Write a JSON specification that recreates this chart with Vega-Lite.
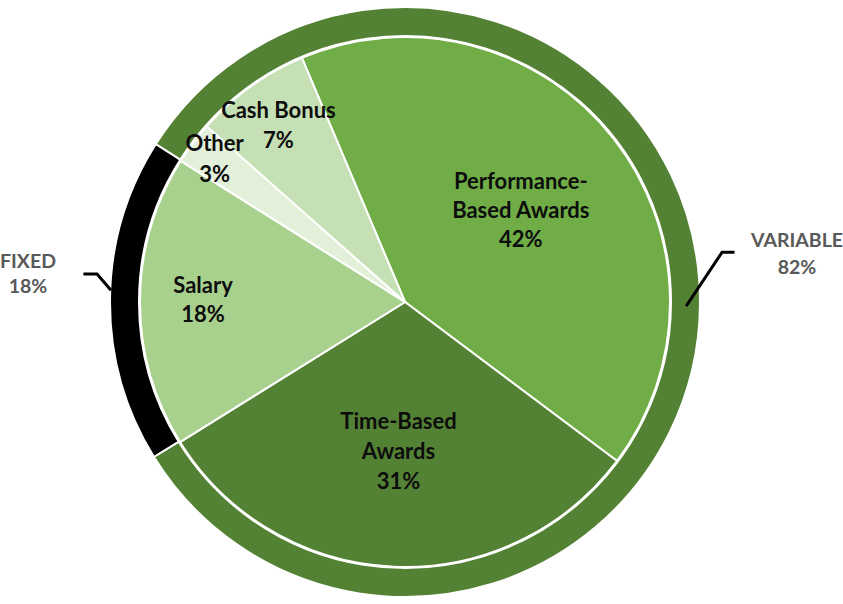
{
  "$schema": "https://vega.github.io/schema/vega-lite/v6.json",
  "width": 810,
  "height": 604,
  "padding": {"left": 0, "right": 33, "top": 0, "bottom": 0},
  "autosize": {"type": "none"},
  "background": "white",
  "config": {"view": {"stroke": null}, "font": "Lato"},
  "datasets": {
    "pay": [
      {"name": "Performance-Based Awards", "label": "Performance-\nBased Awards\n42%", "value": 41.6, "rank": 1},
      {"name": "Time-Based Awards", "label": "Time-Based\nAwards\n31%", "value": 30.9, "rank": 2},
      {"name": "Salary", "label": "Salary\n18%", "value": 17.8, "rank": 3},
      {"name": "Other", "label": "Other\n3%", "value": 2.6, "rank": 4},
      {"name": "Cash Bonus", "label": "Cash Bonus\n7%", "value": 7.1, "rank": 5}
    ],
    "mix": [
      {"name": "FIXED", "label": "FIXED\n18%", "value": 17.8, "rank": 1},
      {"name": "VARIABLE", "label": "VARIABLE\n82%", "value": 82.2, "rank": 2}
    ],
    "leaders": [
      {"group": "FIXED", "x": -1.085, "y": 0.095, "i": 1},
      {"group": "FIXED", "x": -1.044, "y": 0.095, "i": 2},
      {"group": "FIXED", "x": -1.0, "y": 0.044, "i": 3},
      {"group": "VARIABLE", "x": 1.112, "y": 0.169, "i": 1},
      {"group": "VARIABLE", "x": 1.075, "y": 0.169, "i": 2},
      {"group": "VARIABLE", "x": 0.956, "y": -0.01, "i": 3}
    ]
  },
  "layer": [
    {
      "data": {"name": "mix"},
      "mark": {"type": "arc", "outerRadius": 295, "innerRadius": 266, "stroke": "white", "strokeWidth": 2},
      "encoding": {
        "theta": {"field": "value", "type": "quantitative", "stack": true, "scale": {"range": [4.1591, 10.4423]}},
        "order": {"field": "rank", "type": "quantitative"},
        "color": {"field": "name", "type": "nominal", "scale": {"domain": ["FIXED", "VARIABLE"], "range": ["#000000", "#548235"]}, "legend": null}
      }
    },
    {
      "data": {"name": "pay"},
      "mark": {"type": "arc", "outerRadius": 265, "stroke": "white", "strokeWidth": 2},
      "encoding": {
        "theta": {"field": "value", "type": "quantitative", "stack": true, "scale": {"range": [-0.3997, 5.8835]}},
        "order": {"field": "rank", "type": "quantitative"},
        "color": {"field": "name", "type": "nominal", "scale": {"domain": ["Performance-Based Awards", "Time-Based Awards", "Salary", "Other", "Cash Bonus"], "range": ["#70AD47", "#548235", "#A9D18E", "#E2F0D9", "#C5E0B4"]}, "legend": null}
      }
    },
    {
      "data": {"name": "pay"},
      "mark": {"type": "text", "radius": 147, "dy": -29, "font": "Lato", "fontWeight": "bold", "fontSize": 22, "lineBreak": "\n", "lineHeight": 29, "color": "#0d0d0d", "align": "center", "baseline": "middle"},
      "encoding": {
        "theta": {"field": "value", "type": "quantitative", "stack": true, "scale": {"range": [-0.3997, 5.8835]}},
        "order": {"field": "rank", "type": "quantitative"},
        "text": {"condition": {"test": "datum.name === 'Performance-Based Awards'", "field": "label", "type": "nominal"}, "value": ""}
      }
    },
    {
      "data": {"name": "pay"},
      "mark": {"type": "text", "radius": 150, "dy": -30, "font": "Lato", "fontWeight": "bold", "fontSize": 22, "lineBreak": "\n", "lineHeight": 30, "color": "#0d0d0d", "align": "center", "baseline": "middle"},
      "encoding": {
        "theta": {"field": "value", "type": "quantitative", "stack": true, "scale": {"range": [-0.3997, 5.8835]}},
        "order": {"field": "rank", "type": "quantitative"},
        "text": {"condition": {"test": "datum.name === 'Time-Based Awards'", "field": "label", "type": "nominal"}, "value": ""}
      }
    },
    {
      "data": {"name": "pay"},
      "mark": {"type": "text", "radius": 202, "dy": -16, "font": "Lato", "fontWeight": "bold", "fontSize": 22, "lineBreak": "\n", "lineHeight": 29, "color": "#0d0d0d", "align": "center", "baseline": "middle"},
      "encoding": {
        "theta": {"field": "value", "type": "quantitative", "stack": true, "scale": {"range": [-0.3997, 5.8835]}},
        "order": {"field": "rank", "type": "quantitative"},
        "text": {"condition": {"test": "datum.name === 'Salary'", "field": "label", "type": "nominal"}, "value": ""}
      }
    },
    {
      "data": {"name": "pay"},
      "mark": {"type": "text", "radius": 238, "dy": -15, "font": "Lato", "fontWeight": "bold", "fontSize": 22, "lineBreak": "\n", "lineHeight": 31, "color": "#0d0d0d", "align": "center", "baseline": "middle"},
      "encoding": {
        "theta": {"field": "value", "type": "quantitative", "stack": true, "scale": {"range": [-0.3997, 5.8835]}},
        "order": {"field": "rank", "type": "quantitative"},
        "text": {"condition": {"test": "datum.name === 'Other'", "field": "label", "type": "nominal"}, "value": ""}
      }
    },
    {
      "data": {"name": "pay"},
      "mark": {"type": "text", "radius": 217, "dy": -15, "font": "Lato", "fontWeight": "bold", "fontSize": 22, "lineBreak": "\n", "lineHeight": 30, "color": "#0d0d0d", "align": "center", "baseline": "middle"},
      "encoding": {
        "theta": {"field": "value", "type": "quantitative", "stack": true, "scale": {"range": [-0.3997, 5.8835]}},
        "order": {"field": "rank", "type": "quantitative"},
        "text": {"condition": {"test": "datum.name === 'Cash Bonus'", "field": "label", "type": "nominal"}, "value": ""}
      }
    },
    {
      "data": {"name": "mix"},
      "mark": {"type": "text", "radius": 377, "dy": -38, "font": "Lato", "fontWeight": "bold", "fontSize": 19.5, "lineBreak": "\n", "lineHeight": 25, "color": "#595959", "align": "center", "baseline": "middle"},
      "encoding": {
        "theta": {"field": "value", "type": "quantitative", "stack": true, "scale": {"range": [4.1591, 10.4423]}},
        "order": {"field": "rank", "type": "quantitative"},
        "text": {"condition": {"test": "datum.name === 'FIXED'", "field": "label", "type": "nominal"}, "value": ""}
      }
    },
    {
      "data": {"name": "mix"},
      "mark": {"type": "text", "radius": 392, "dy": -63, "font": "Lato", "fontWeight": "bold", "fontSize": 19.5, "lineBreak": "\n", "lineHeight": 27, "color": "#595959", "align": "center", "baseline": "middle"},
      "encoding": {
        "theta": {"field": "value", "type": "quantitative", "stack": true, "scale": {"range": [4.1591, 10.4423]}},
        "order": {"field": "rank", "type": "quantitative"},
        "text": {"condition": {"test": "datum.name === 'VARIABLE'", "field": "label", "type": "nominal"}, "value": ""}
      }
    },
    {
      "data": {"name": "leaders"},
      "mark": {"type": "line", "color": "#000000", "strokeWidth": 3, "strokeCap": "square"},
      "encoding": {
        "x": {"field": "x", "type": "quantitative", "scale": {"domain": [-1.3729, 1.3729], "nice": false, "zero": false}, "axis": null},
        "y": {"field": "y", "type": "quantitative", "scale": {"domain": [-1.0237, 1.0237], "nice": false, "zero": false}, "axis": null},
        "detail": {"field": "group", "type": "nominal"},
        "order": {"field": "i", "type": "quantitative"}
      }
    }
  ],
  "resolve": {"scale": {"theta": "independent", "color": "independent"}}
}
